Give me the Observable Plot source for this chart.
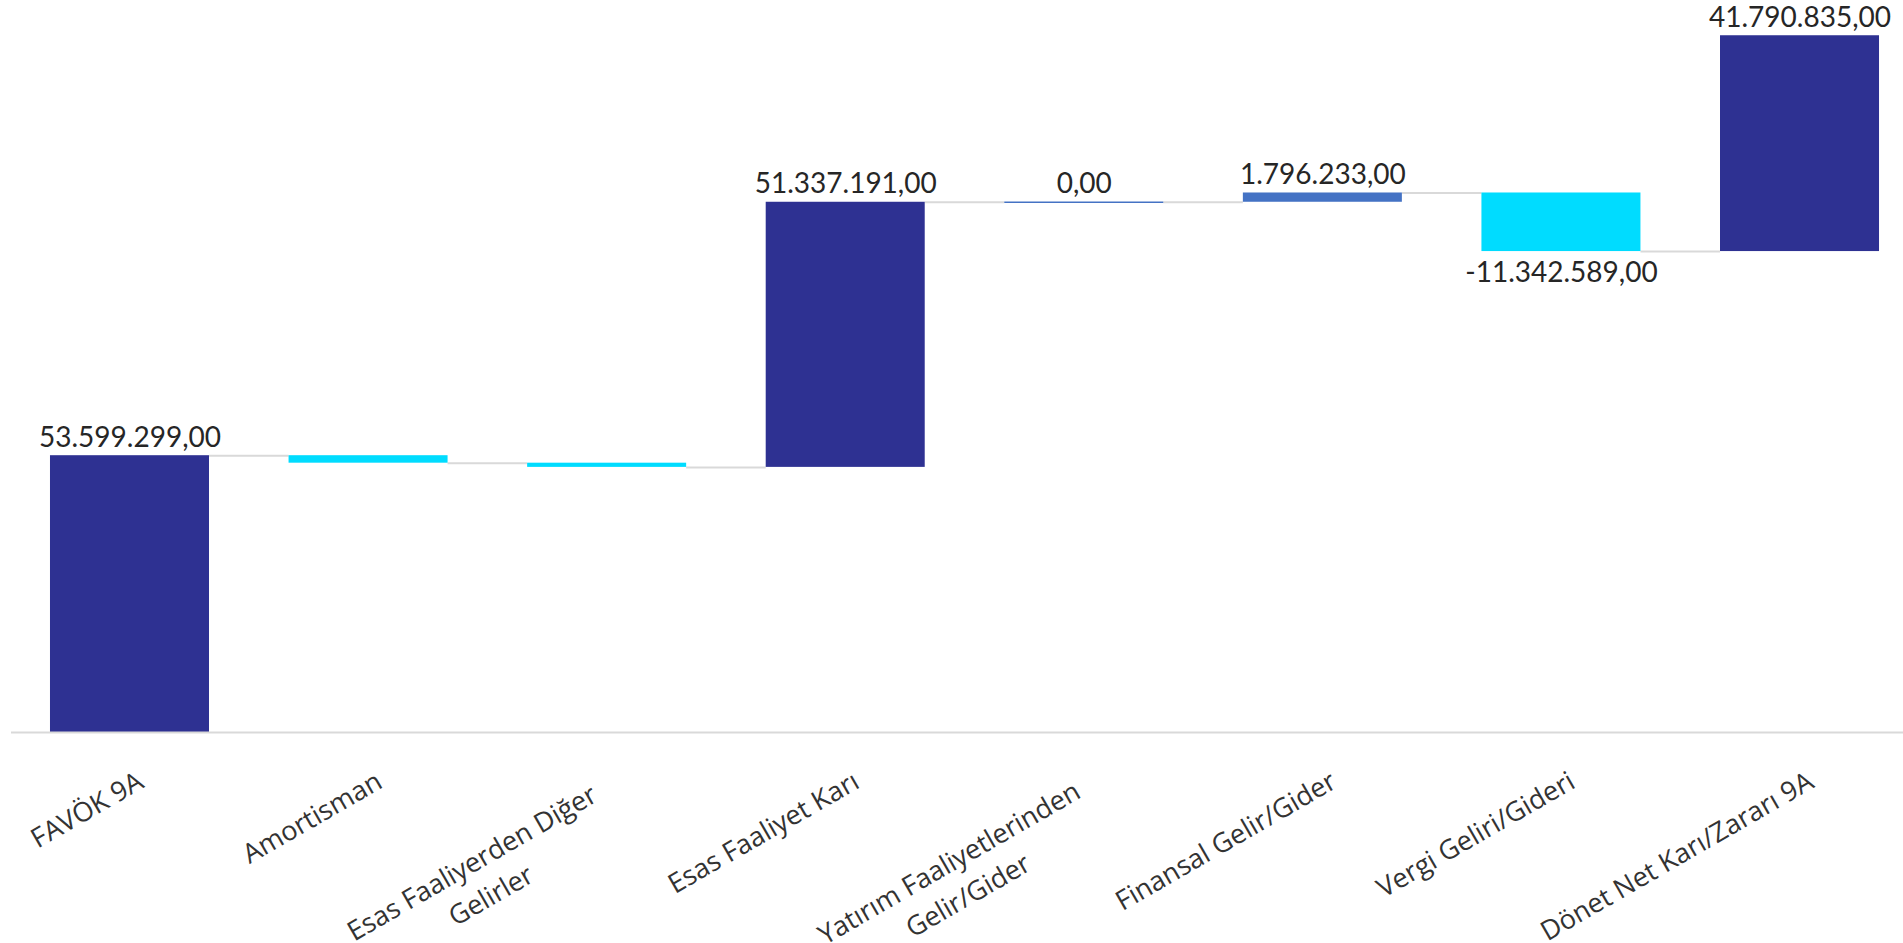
<!DOCTYPE html>
<html>
<head>
<meta charset="utf-8">
<script src="https://cdn.jsdelivr.net/npm/d3@7"></script>
<script src="https://cdn.jsdelivr.net/npm/@observablehq/plot@0.6"></script>
<style>
html, body { margin: 0; padding: 0; background: #ffffff; }
#chart svg { display: block; background: linear-gradient(to bottom, #ffffff 0, #ffffff 733px, #f2f2f2 733px, #f2f2f2 100%); }
</style>
</head>
<body>
<div id="chart"></div>
<script>
// ---- data ----
const categories = [
  "FAVÖK 9A",
  "Amortisman",
  "Esas Faaliyerden Diğer\nGelirler",
  "Esas Faaliyet Karı",
  "Yatırım Faaliyetlerinden\nGelir/Gider",
  "Finansal Gelir/Gider",
  "Vergi Geliri/Gideri",
  "Dönet Net Karı/Zararı 9A"
];
const values = [53599299, -1451000, -811108, 51337191, 0, 1796233, -11342589, 41790835];
const kinds = ["total", "decrease", "decrease", "total", "increase", "increase", "decrease", "total"];
const showLabel = [true, false, false, true, true, true, true, true];

// ---- derived waterfall table ----
let running = 0;
const rows = categories.map((cat, i) => {
  const start = running;
  running += values[i];
  return {cat, value: values[i], start, end: running, kind: kinds[i], label: showLabel[i]};
});
const links = rows.slice(0, -1).map((d, i) => ({a: d.cat, b: rows[i + 1].cat, level: d.end}));

// ---- layout ----
const W = 1903, H = 943;
const n = categories.length;
const xRange = [10.2, 1918.8];
const padIn = 0.3335, padOut = padIn / 2;
const step = (xRange[1] - xRange[0]) / (n - padIn + 2 * padOut);
const bw = step * (1 - padIn);

const trLocale = d3.formatLocale({decimal: ",", thousands: ".", grouping: [3], currency: ["", ""], minus: "-"});
const fmt = trLocale.format(",.2f");

const angle = -30;
const wrapWidth = 337;
const cosA = Math.cos(Math.PI / 6), sinA = Math.sin(Math.PI / 6);

const catMarks = rows.map(d => {
  const multi = d.cat.includes("\n");
  const half = wrapWidth / 2;
  return Plot.text([d], {
    x: "cat", text: "cat", frameAnchor: "bottom", rotate: angle,
    lineAnchor: "top", textAnchor: multi ? "middle" : "end",
    dx: multi ? 2 - half * cosA : 2,
    dy: multi ? 31 + half * sinA : 31,
    fontFamily: "Open Sans, Noto Sans, sans-serif", fontSize: 27, lineHeight: 1.4, fill: "#333333"
  });
});

const chart = Plot.plot({
  width: W, height: H,
  marginTop: 9, marginBottom: 211, marginLeft: 11, marginRight: 0,
  style: {background: "transparent", overflow: "visible"},
  x: {domain: categories, range: xRange, paddingInner: padIn, paddingOuter: padOut, round: false, axis: null},
  y: {domain: [0, 140e6], axis: null},
  color: {domain: ["total", "increase", "decrease"], range: ["#2e3192", "#4472c4", "#00dcff"]},
  marks: [
    Plot.ruleY(links, {x1: "a", x2: "b", y: "level", insetLeft: bw, insetRight: bw, stroke: "#d9d9d9", strokeWidth: 2}),
    Plot.barY(rows, {x: "cat", y1: "start", y2: "end", fill: "kind"}),
    Plot.tickY(rows.filter(d => d.value === 0), {x: "cat", y: "end", stroke: "kind", strokeWidth: 1.5}),
    Plot.ruleY([0], {stroke: "#d9d9d9", strokeWidth: 2}),
    Plot.text(rows.filter(d => d.label && d.value >= 0), {
      x: "cat", y: "end", text: d => fmt(d.value), lineAnchor: "bottom", dy: -9,
      fontFamily: "Lato, sans-serif", fontSize: 28, fill: "#262626"
    }),
    Plot.text(rows.filter(d => d.label && d.value < 0), {
      x: "cat", y: "end", text: d => fmt(d.value), lineAnchor: "top", dy: 11,
      fontFamily: "Lato, sans-serif", fontSize: 28, fill: "#262626"
    }),
    ...catMarks
  ]
});
document.getElementById("chart").appendChild(chart);
</script>
</body>
</html>
